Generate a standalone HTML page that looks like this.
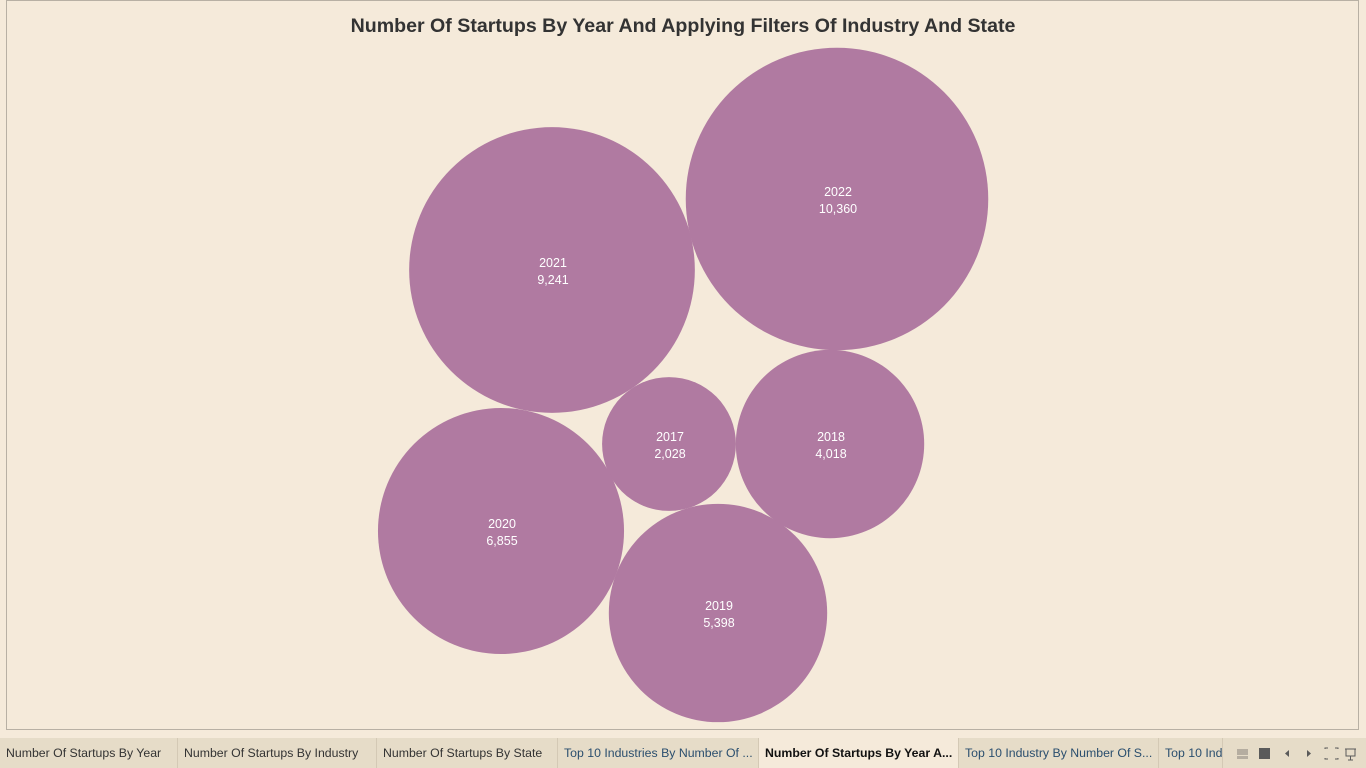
<!DOCTYPE html>
<html><head><meta charset="utf-8"><style>
body{margin:0;width:1366px;height:768px;background:#f5eada;overflow:hidden;font-family:"Liberation Sans",sans-serif;position:relative}
#frame{position:absolute;left:6px;top:0;width:1353px;height:730px;border:1px solid #b8b0a4;box-sizing:border-box}
#title{position:absolute;left:0;width:1366px;top:15px;text-align:center;font-size:19.6px;font-weight:bold;color:#333}
#tabs{position:absolute;left:0;top:738px;width:1366px;height:30px;background:#e6dcc8}
.tab{position:absolute;top:0;height:30px;line-height:30px;font-size:12.3px;color:#333;padding-left:6px;box-sizing:border-box;border-right:1px solid #d4c9b5;white-space:nowrap;overflow:hidden}
.tab.active{background:#f5eada;font-weight:bold;color:#111}
.tab.blue{color:#2a4e6e}
</style></head><body>
<div id="frame"></div>
<div id="title">Number Of Startups By Year And Applying Filters Of Industry And State</div>
<svg id="chart" width="1366" height="738" style="position:absolute;left:0;top:0"></svg>
<div id="tabs">
<div class="tab" style="left:0;width:178px">Number Of Startups By Year</div>
<div class="tab" style="left:178px;width:199px">Number Of Startups By Industry</div>
<div class="tab" style="left:377px;width:181px">Number Of Startups By State</div>
<div class="tab blue" style="left:558px;width:201px">Top 10 Industries By Number Of ...</div>
<div class="tab active" style="left:759px;width:200px">Number Of Startups By Year A...</div>
<div class="tab blue" style="left:959px;width:200px">Top 10 Industry By Number Of S...</div>
<div class="tab blue" style="left:1159px;width:64px">Top 10 Ind</div>
<svg style="position:absolute;left:1230px;top:0" width="136" height="30">
<rect x="7" y="11" width="11" height="6" fill="#b5ada0"/><rect x="7" y="18" width="11" height="3" fill="#b5ada0"/>
<rect x="29" y="10" width="11" height="11" fill="#5a5a5a"/>
<polygon points="59,12 55,15.5 59,19" fill="#5a5a5a"/>
<polygon points="77,12 81,15.5 77,19" fill="#5a5a5a"/>
<path d="M95 11v-1h3M105 10h3v1M108 20v1h-3M98 21h-3v-1" stroke="#5a5a5a" fill="none"/>
<path d="M115 11h11M116 11v7h9v-7M120.5 18v4M118 22h5" stroke="#5a5a5a" fill="none"/>
</svg>
</div>
<script>
const years=["2017","2018","2019","2020","2021","2022"];
const counts=[2028,4018,5398,6855,9241,10360];
const labels=["2,028","4,018","5,398","6,855","9,241","10,360"];
// packed layout centers (not data)
const layout=[[669,444],[830,444],[718,613],[501,531],[552,270],[837,199]];
const rScale=v=>1.486*Math.sqrt(v);
const svg=document.getElementById('chart');
const NS='http://www.w3.org/2000/svg';
years.forEach((y,i)=>{
  const g=document.createElementNS(NS,'g');
  
  
  const c=document.createElementNS(NS,'circle');
  c.setAttribute('cx',layout[i][0]);c.setAttribute('cy',layout[i][1]);
  c.setAttribute('r',rScale(counts[i]));c.setAttribute('fill','#b07aa1');
  g.appendChild(c);
  [[y,-8],[labels[i],9]].forEach(([t,dy],k)=>{
    const tx=document.createElementNS(NS,'text');
    tx.setAttribute('x',layout[i][0]+1);tx.setAttribute('y',layout[i][1]+dy+5);
    tx.setAttribute('text-anchor','middle');tx.setAttribute('fill','#fff');
    tx.setAttribute('font-size','12.5');tx.setAttribute('font-family','Liberation Sans, sans-serif');
    
    
    tx.textContent=t;g.appendChild(tx);
  });
  svg.appendChild(g);
});
</script>
</body></html>
